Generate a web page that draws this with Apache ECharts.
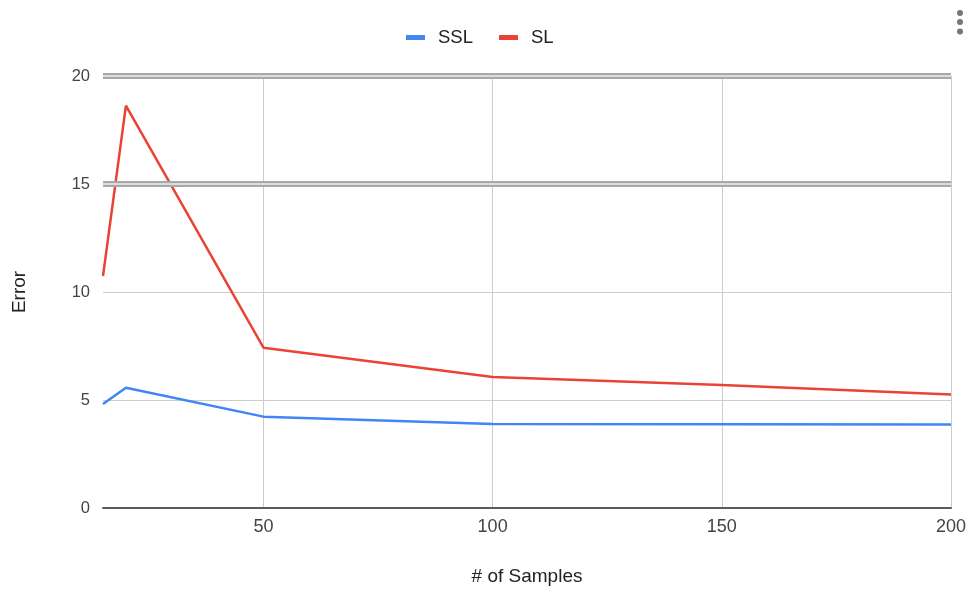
<!DOCTYPE html>
<html><head><meta charset="utf-8">
<script src="https://cdn.jsdelivr.net/npm/echarts@6/dist/echarts.min.js"></script>
<style>html,body{margin:0;padding:0;background:#fff}#c{width:972px;height:592px}</style>
</head><body><div id="c"></div>
<script>
const samples = [15, 20, 50, 100, 150, 200];
const sslValues = [4.81, 5.57, 4.23, 3.89, 3.88, 3.86];
const slValues = [10.74, 18.63, 7.42, 6.06, 5.69, 5.25];
const xTicks = [50, 100, 150, 200];
const yTicks = [0, 5, 10, 15, 20];
const doubleLines = [15, 20];

const font = 'Arial, "Liberation Sans", sans-serif';
const chart = echarts.init(document.getElementById('c'), null, {renderer: 'canvas'});
const pairs = (vals) => samples.map((x, i) => [x, vals[i]]);
chart.setOption({
  animation: false,
  textStyle: {fontFamily: font},
  legend: {
    top: 28, left: 406, padding: 0, itemWidth: 19, itemHeight: 5, itemGap: 26,
    icon: 'rect',
    textStyle: {fontSize: 18.5, color: '#222', fontFamily: font, padding: [0, 0, 0, 8]},
    data: ['SSL', 'SL']
  },
  grid: {left: 103, right: 21, top: 76, bottom: 84},
  xAxis: {
    type: 'value', min: 15, max: 200,
    name: '# of Samples', nameLocation: 'middle', nameGap: 59,
    nameTextStyle: {fontSize: 19, color: '#222', fontFamily: font},
    axisLine: {show: true, onZero: false, lineStyle: {color: '#5a5a5a', width: 2}},
    axisTick: {show: false, customValues: xTicks},
    axisLabel: {customValues: xTicks, fontSize: 18, color: '#444', margin: 10, fontFamily: font},
    splitLine: {show: true, lineStyle: {color: '#cccccc', width: 1}}
  },
  yAxis: {
    type: 'value', min: 0, max: 20, interval: 5,
    name: 'Error', nameLocation: 'middle', nameGap: 74, nameRotate: 90,
    nameTextStyle: {fontSize: 19, color: '#222', fontFamily: font},
    axisLine: {show: false}, axisTick: {show: false},
    axisLabel: {fontSize: 16.5, color: '#444', margin: 13, fontFamily: font},
    splitLine: {show: true, lineStyle: {color: '#cccccc', width: 1}}
  },
  series: [
    {
      name: 'SSL', type: 'line', data: pairs(sslValues), showSymbol: false, symbol: 'none',
      lineStyle: {color: '#4285F4', width: 2.5}, itemStyle: {color: '#4285F4'}, z: 3,
      markLine: {
        silent: true, symbol: 'none', label: {show: false}, animation: false,
        lineStyle: {color: '#a8a8a8', width: 6, type: 'solid'},
        data: doubleLines.map(v => ({yAxis: v}))
      }
    },
    {
      name: 'SL', type: 'line', data: pairs(slValues), showSymbol: false, symbol: 'none',
      lineStyle: {color: '#EA4335', width: 2.5}, itemStyle: {color: '#EA4335'}, z: 4,
      markLine: {
        silent: true, symbol: 'none', label: {show: false}, animation: false,
        lineStyle: {color: '#dcdcdc', width: 2, type: 'solid'},
        data: doubleLines.map(v => ({yAxis: v}))
      }
    }
  ],
  graphic: [
    {type: 'circle', shape: {cx: 960, cy: 13, r: 3}, style: {fill: '#757575'}},
    {type: 'circle', shape: {cx: 960, cy: 22, r: 3}, style: {fill: '#757575'}},
    {type: 'circle', shape: {cx: 960, cy: 31.5, r: 3}, style: {fill: '#757575'}}
  ]
});
</script></body></html>
